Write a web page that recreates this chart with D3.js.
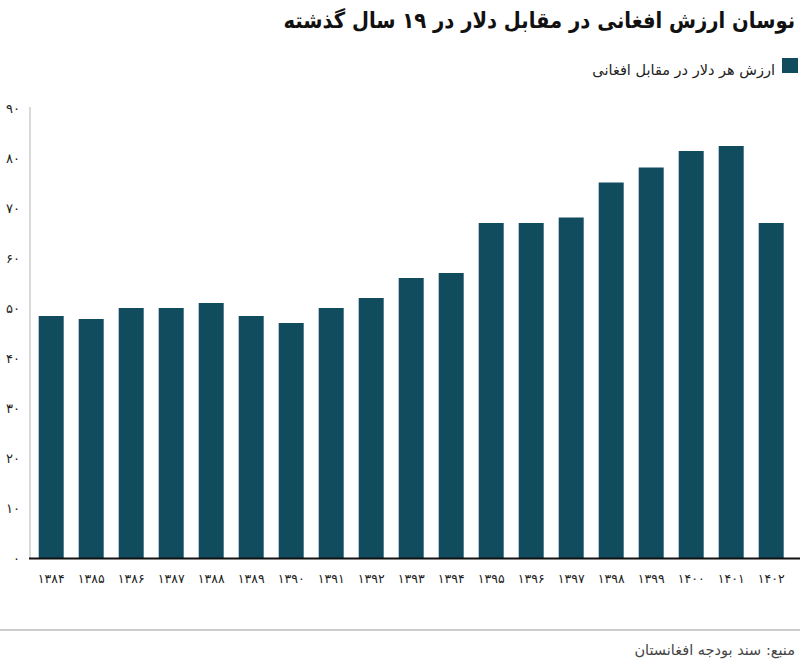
<!DOCTYPE html>
<html><head><meta charset="utf-8">
<script src="https://cdn.jsdelivr.net/npm/d3@7"></script>
<style>
html,body{margin:0;padding:0;background:#fff;}
svg{display:block;font-family:"DejaVu Sans",sans-serif;}
</style></head>
<body>
<script>
const title = "نوسان ارزش افغانی در مقابل دلار در ۱۹ سال گذشته";
const legendLabel = "ارزش  هر دلار در مقابل افغانی";
const source = "منبع: سند بودجه افغانستان";
const years = ["۱۳۸۴","۱۳۸۵","۱۳۸۶","۱۳۸۷","۱۳۸۸","۱۳۸۹","۱۳۹۰","۱۳۹۱","۱۳۹۲","۱۳۹۳","۱۳۹۴","۱۳۹۵","۱۳۹۶","۱۳۹۷","۱۳۹۸","۱۳۹۹","۱۴۰۰","۱۴۰۱","۱۴۰۲"];
const values = [48.4,47.8,50,50,51,48.4,47,50,52,56,57,67,67,68.1,75.1,78.1,81.4,82.4,67];
const yTicks = [0,10,20,30,40,50,60,70,80,90];
const yTickLabels = ["۰","۱۰","۲۰","۳۰","۴۰","۵۰","۶۰","۷۰","۸۰","۹۰"];

const W=800,H=666, color="#104c5e";
const svg=d3.select("body").append("svg").attr("width",W).attr("height",H);

svg.append("text").attr("transform","translate(795,28) scale(0.89,1)").attr("x",0).attr("y",0)
  .attr("text-anchor","start").attr("direction","rtl").attr("font-size",22)
  .attr("font-weight","bold").attr("fill","#111").text(title);

svg.append("rect").attr("x",782).attr("y",58).attr("width",16).attr("height",15).attr("fill",color);
svg.append("text").attr("x",775).attr("y",75).attr("text-anchor","start").attr("direction","rtl")
  .attr("font-size",14.5).attr("fill","#222").text(legendLabel);

const x=d3.scaleBand().domain(years).range([30,792.4]).paddingInner(0.375).paddingOuter(0.2175);
const y=d3.scaleLinear().domain([0,90]).range([558,108]);

svg.append("line").attr("x1",30).attr("x2",30).attr("y1",107).attr("y2",558).attr("stroke","#ccc").attr("stroke-width",1.5);

svg.selectAll("rect.bar").data(values).join("rect").attr("class","bar")
  .attr("x",(d,i)=>x(years[i])).attr("width",x.bandwidth())
  .attr("y",d=>y(d)).attr("height",d=>y(0)-y(d)).attr("fill",color);

const yAxis=d3.axisLeft(y).tickValues(yTicks).tickFormat((d,i)=>yTickLabels[i]).tickSize(0).tickPadding(10);
const ga=svg.append("g").attr("transform","translate(30,0)").call(yAxis);
ga.select(".domain").remove();
ga.selectAll("text").attr("font-size",13).attr("fill","#222").attr("font-family","DejaVu Sans");

const xAxis=d3.axisBottom(x).tickSize(0).tickPadding(16);
const gx=svg.append("g").attr("transform","translate(0,558)").call(xAxis);
gx.select(".domain").remove();
gx.selectAll("text").attr("font-size",12.5).attr("fill","#222").attr("font-family","DejaVu Sans");

svg.append("line").attr("x1",29).attr("x2",800).attr("y1",558.5).attr("y2",558.5).attr("stroke","#111").attr("stroke-width",2);

svg.append("line").attr("x1",0).attr("x2",800).attr("y1",630).attr("y2",630).attr("stroke","#999").attr("stroke-width",1);
svg.append("text").attr("x",795).attr("y",655).attr("text-anchor","start").attr("direction","rtl")
  .attr("font-size",14.5).attr("fill","#444").text(source);
</script>
</body></html>
